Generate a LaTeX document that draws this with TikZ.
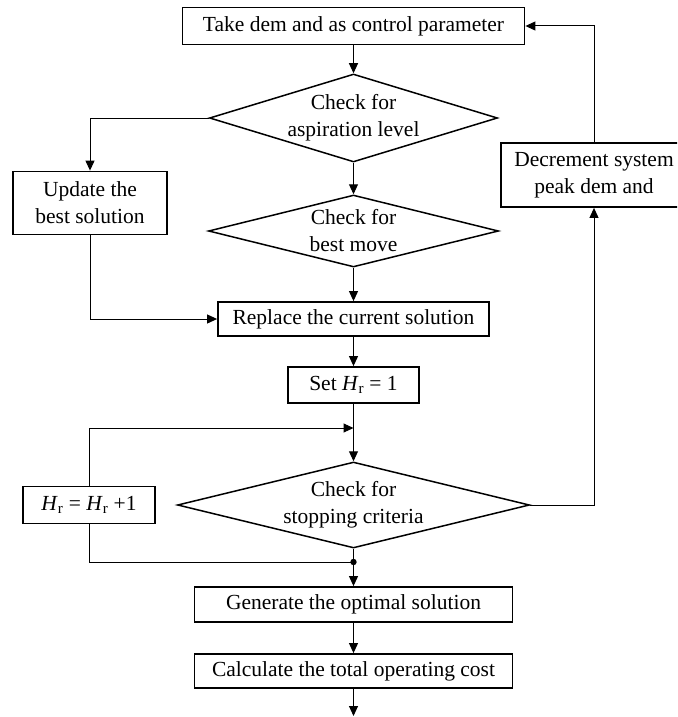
\documentclass[tikz,border=0pt]{standalone}
\usepackage{fontspec}
\setmainfont{Liberation Serif}
\usetikzlibrary{shapes.geometric,arrows.meta}
\begin{document}
\begin{tikzpicture}[x=1pt,y=-1pt,
  every node/.style={font=\fontsize{21.5}{27}\selectfont},
  box/.style={draw,line width=1.8pt,rectangle,inner sep=0pt,align=center},
  dia/.style={draw,line width=1.5pt,diamond,inner sep=0pt},
  dlab/.style={align=center,font=\fontsize{21.5}{27}\selectfont},
  arr/.style={line width=1pt,-{Triangle[length=10pt,width=9pt]}},
  ln/.style={line width=1pt}]
\useasboundingbox (0,0) rectangle (677,717);
\clip (0,0) rectangle (677,717);
\node[box,minimum width=342,minimum height=37] (top) at (353.5,26) {Take dem and as control parameter};
\node[dia,minimum width=288,minimum height=88,label={[dlab]center:Check for\\aspiration level}] (d1) at (353.5,118) {};
\node[dia,minimum width=290,minimum height=72,label={[dlab]center:Check for\\best move}] (d2) at (353.5,231) {};
\node[box,minimum width=154,minimum height=63] (upd) at (90,203) {Update the\\best solution};
\node[box,minimum width=271,minimum height=34] (rep) at (353.5,319) {Replace the current solution};
\node[box,minimum width=131,minimum height=36] (set) at (353.5,385) {Set \textit{H}\textsubscript{r} = 1};
\node[dia,minimum width=352,minimum height=86,label={[dlab]center:Check for\\stopping criteria}] (d3) at (353.5,505) {};
\node[box,minimum width=132,minimum height=37] (hr) at (89,505) {\textit{H}\textsubscript{r} = \textit{H}\textsubscript{r} +1};
\node[box,minimum width=186,minimum height=64] (dec) at (594,175) {Decrement system\\peak dem and};
\node[box,minimum width=318,minimum height=35] (gen) at (353.5,604.5) {Generate the optimal solution};
\node[box,minimum width=318,minimum height=34] (calc) at (353.5,671) {Calculate the total operating cost};
\coordinate (j1) at (353.5,428);
\coordinate (dot) at (353.5,562);
\coordinate (end) at (353.5,716);
\draw[arr] (top.south) -- (d1.north);
\draw[arr] (dec.north) |- (top.east);
\draw[arr] (d1.west) -| (upd.north);
\draw[arr] (d1.south) -- (d2.north);
\draw[arr] (upd.south) |- (rep.west);
\draw[arr] (d2.south) -- (rep.north);
\draw[arr] (rep.south) -- (set.north);
\draw[arr] (set.south) -- (d3.north);
\draw[arr] (hr.north) |- (j1);
\draw[arr] (d3.east) -| (dec.south);
\draw[ln] (d3.south) -- (dot);
\draw[ln] (hr.south) |- (dot);
\fill (dot) circle (3.2);
\draw[arr] (dot) -- (gen.north);
\draw[arr] (gen.south) -- (calc.north);
\draw[arr] (calc.south) -- (end);
\end{tikzpicture}
\end{document}
